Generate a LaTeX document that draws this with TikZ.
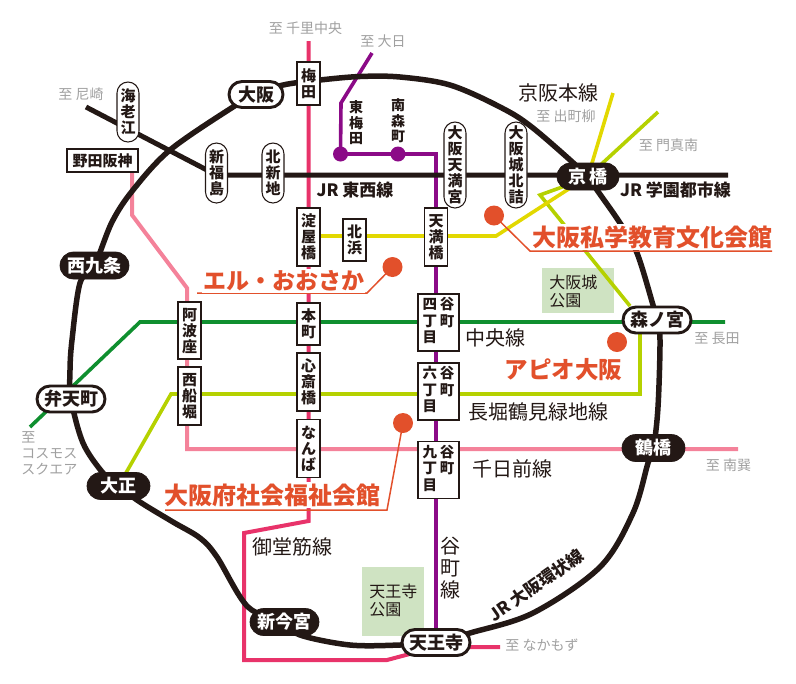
\documentclass[tikz,border=0pt]{standalone}
\usepackage{fontspec}
\setmainfont{Noto Sans CJK JP}
\usetikzlibrary{backgrounds}
\pgfdeclarelayer{lines}
\pgfsetlayers{lines,main}
\definecolor{ink}{HTML}{231815}
\definecolor{cMido}{HTML}{E8336A}
\definecolor{cTani}{HTML}{8B0A87}
\definecolor{cSen}{HTML}{F4829A}
\definecolor{cChuo}{HTML}{0F8F2F}
\definecolor{cNaga}{HTML}{B5D100}
\definecolor{cKei}{HTML}{E2D800}
\definecolor{cRed}{HTML}{E2502B}
\definecolor{cGrey}{HTML}{A0A0A0}
\definecolor{cPark}{HTML}{CFE3C2}
\def\px{0.75pt}
\newcommand{\FS}[2]{\fontsize{\dimexpr#1\dimexpr 0.75pt\relax\relax}{\dimexpr#2\dimexpr 0.75pt\relax\relax}\selectfont}
\tikzset{
  x=0.75pt,y=-0.75pt,
  stbase/.style={inner sep=0pt,align=center,font=\bfseries\FS{15}{16},text=ink},
  rectst/.style={stbase,draw=ink,line width=0.8pt,fill=white,minimum width=23*\px},
  roundst/.style={stbase,draw=ink,line width=0.8pt,fill=white,minimum width=22*\px,rounded corners=11*\px},
  twocol/.style={stbase,draw=ink,line width=0.8pt,fill=white,minimum width=41*\px,minimum height=57*\px,font=\bfseries\FS{14.5}{15.5}},
  pillw/.style={inner sep=0pt,draw=ink,line width=2.2pt,fill=white,text=ink,font=\bfseries\FS{18}{20},minimum height=26*\px,rounded corners=13*\px},
  pillb/.style={inner sep=0pt,draw=ink,line width=0.5pt,fill=ink,text=white,font=\bfseries\FS{18}{20},minimum height=27*\px,rounded corners=13.5*\px},
  gry/.style={inner sep=0pt,text=cGrey,font=\FS{14}{16}},
  lbl/.style={inner sep=0pt,text=ink,font=\FS{20}{22}},
  lblb/.style={inner sep=0pt,text=ink,font=\bfseries\FS{17}{20}},
  venue/.style={inner xsep=1pt,inner ysep=1pt,fill=white,text=cRed,font=\bfseries\FS{24}{26}},
  dot/.style={circle,fill=cRed,inner sep=0pt,minimum size=20*\px},
  stopdot/.style={circle,fill=cTani,inner sep=0pt,minimum size=15*\px},
  park/.style={fill=cPark,inner sep=0pt},
  parktxt/.style={inner sep=0pt,align=left,text=ink,font=\FS{16}{18}},
  lnMido/.style={draw=cMido,line width=4*\px},
  lnTani/.style={draw=cTani,line width=3.6*\px},
  lnSen/.style={draw=cSen,line width=4*\px},
  lnChuo/.style={draw=cChuo,line width=3.6*\px},
  lnNaga/.style={draw=cNaga,line width=3.6*\px},
  lnKei/.style={draw=cKei,line width=3.6*\px},
  lnRing/.style={draw=ink,line width=5.5*\px},
  lnTozai/.style={draw=ink,line width=5*\px},
  leader/.style={draw=cRed,line width=1.5*\px},
}
\begin{document}
\begin{tikzpicture}
\useasboundingbox (0,0) rectangle (796,683);
% vertical rectangular stations
\node[rectst,minimum height=43*\px] (umeda) at (308.5,83.5) {梅\\田};
\node[rectst,minimum height=58*\px] (yodoyabashi) at (308.5,237) {淀\\屋\\橋};
\node[rectst,minimum height=42*\px] (kitahama) at (354.5,240) {北\\浜};
\node[rectst,minimum height=58*\px] (temmabashi) at (436,237) {天\\満\\橋};
\node[rectst,minimum height=42*\px] (hommachi) at (308.5,324) {本\\町};
\node[rectst,minimum height=58*\px] (shinsaibashi) at (308.5,382) {心\\斎\\橋};
\node[rectst,minimum height=58*\px] (namba) at (308.5,448.5) {な\\ん\\ば};
\node[rectst,minimum height=57*\px] (awaza) at (189.5,330.5) {阿\\波\\座};
\node[rectst,minimum height=58*\px] (nishisen) at (189.5,396) {西\\船\\堀};
\node[rectst,minimum width=71*\px,minimum height=23*\px] (noda) at (102.5,160.5) {野田阪神};
% two-column stations
\node[twocol] (tani4) at (438.5,322.5) {\begin{tabular}{@{}c@{\hspace{2pt}}c@{}}四&谷\\丁&町\\目&\end{tabular}};
\node[twocol] (tani6) at (438.5,391.5) {\begin{tabular}{@{}c@{\hspace{2pt}}c@{}}六&谷\\丁&町\\目&\end{tabular}};
\node[twocol] (tani9) at (438.5,470) {\begin{tabular}{@{}c@{\hspace{2pt}}c@{}}九&谷\\丁&町\\目&\end{tabular}};
% rounded vertical stations
\node[roundst,minimum height=60*\px] (ebie) at (128,112) {海\\老\\江};
\node[roundst,minimum height=60*\px] (shinfuku) at (216.5,173) {新\\福\\島};
\node[roundst,minimum height=60*\px] (kitashin) at (273,173) {北\\新\\地};
\node[roundst,minimum height=86*\px] (otemmangu) at (455,165) {大\\阪\\天\\満\\宮};
\node[roundst,minimum height=86*\px] (ojokita) at (516,165) {大\\阪\\城\\北\\詰};
% ring stations
\node[pillw,minimum width=54*\px] (osaka) at (256,94.5) {大阪};
\node[pillw,minimum width=68*\px] (benten) at (71,399) {弁天町};
\node[pillw,minimum width=68*\px] (morinomiya) at (657,320) {森ノ宮};
\node[pillw,minimum width=68*\px] (tennoji) at (436,642.5) {天王寺};
\node[pillb,minimum width=69*\px] (nishikujo) at (94.5,265.5) {西九条};
\node[pillb,minimum width=62*\px] (kyobashi) at (588,176.5) {京\,橋};
\node[pillb,minimum width=63*\px] (tsuruhashi) at (653.5,448) {鶴橋};
\node[pillb,minimum width=63*\px] (taisho) at (118.5,486) {大正};
\node[pillb,minimum width=69*\px] (shinimamiya) at (284.5,622) {新今宮};
% stops with dots and their vertical names
\node[stopdot] (higashiumeda) at (340.5,154) {};
\node[stopdot] (minamimori) at (398,154) {};
\node[inner sep=0pt,align=center,text=ink,font=\bfseries\FS{14}{15.5}] (higashiname) at (356,123) {東\\梅\\田};
\node[inner sep=0pt,align=center,text=ink,font=\bfseries\FS{14}{15.5}] (minaminame) at (398,121) {南\\森\\町};
% free ends and bends
\coordinate (toAma) at (86,107);
\coordinate (toGaku) at (728,175);
\coordinate (toSenri) at (308.5,41);
\coordinate (midoA) at (308.5,521);
\coordinate (midoB) at (244,533);
\coordinate (midoC) at (244,660);
\coordinate (midoD) at (387,660);
\coordinate (toNaka) at (500,647);
\coordinate (toDaini) at (372,53);
\coordinate (taniA) at (341,103);
\coordinate (taniB) at (436,154);
\coordinate (senA) at (132,215);
\coordinate (senB) at (187,288);
\coordinate (senC) at (187,449);
\coordinate (toMinami) at (738,449);
\coordinate (toCosmos) at (30,427);
\coordinate (chuoA) at (140,322);
\coordinate (toNagata) at (725,322);
\coordinate (nagaA) at (171,394);
\coordinate (nagaB) at (640,394);
\coordinate (nagaE) at (630,306);
\coordinate (nagaC) at (540,195);
\coordinate (nagaD) at (565,186);
\coordinate (toKadoma) at (658,112);
\coordinate (keiA) at (496,236);
\coordinate (toDemachi) at (613,93);
% venues
\node[dot] (dotshigaku) at (494,215.5) {};
\node[dot] (dotel) at (392.5,267) {};
\node[dot] (dotapio) at (617,342) {};
\node[dot] (dotfukushi) at (403,423) {};
\coordinate (legShigakuA) at (530,251);
\coordinate (legShigakuB) at (772,251);
\coordinate (legElA) at (367,293);
\coordinate (legElB) at (197,293);
\coordinate (legFukuA) at (387,510);
\coordinate (legFukuB) at (165,510);
\begin{pgfonlayer}{lines}
  \node[park,minimum width=72*\px,minimum height=45*\px] (parkjo) at (578,290.5) {};
  \node[park,minimum width=62*\px,minimum height=69*\px] (parkten) at (393,601.5) {};
  % subway and private lines
  \draw[lnSen] (senA |- noda.center) -- (senA) -- (senB) -- (senC) -- (toMinami);
  \draw[lnChuo] (toCosmos) -- (chuoA) -- (toNagata);
  \draw[lnNaga] (taisho.center) -- (nagaA) -- (nagaB) -- (nagaB |- morinomiya) -- (morinomiya.center);
  \draw[lnNaga] (nagaE) -- (nagaC) -- (nagaD) -- (kyobashi.center);
  \draw[lnNaga] (kyobashi.center) -- (toKadoma);
  \draw[lnKei] (yodoyabashi.center |- keiA) -- (keiA) -- (kyobashi.center);
  \draw[lnKei] (kyobashi.center) -- (toDemachi);
  \draw[lnMido] (toSenri) -- (midoA) -- (midoB) -- (midoC) -- (midoD) -- (tennoji.center |- toNaka) -- (toNaka);
  \draw[lnTani] (toDaini) -- (taniA) -- (higashiumeda.center) -- (taniB) -- (tennoji.center);
  % JR lines
  \draw[lnTozai] (toAma) -- (shinfuku.center |- toGaku) -- (toGaku);
  \draw[lnRing] plot[smooth cycle,tension=0.55] coordinates {
    (osaka.center) (283,85) (320,80) (360,76.5) (400,77) (450,85) (500,107) (533,128)
    (kyobashi.center) (597,190) (620,223) (637,253) (653,305) (morinomiya.center)
    (660,340) (658,407) (tsuruhashi.center) (648,463) (633,513) (600,567) (533,613)
    (470,633) (tennoji.center) (400,645) (350,645) (300,635) (shinimamiya.center)
    (248,607) (217,557) (200,538) (173,522) (140,502) (taisho.center) (103,473) (83,443)
    (benten.center) (70,370) (72,340) (80,283) (nishikujo.center) (112,222) (133,190) (170,150) (233,107)};
  % leaders
  \draw[leader] (dotshigaku.center) -- (legShigakuA) -- (legShigakuB);
  \draw[leader] (dotel.center) -- (legElA) -- (legElB);
  \draw[leader] (dotfukushi.center) -- (legFukuA) -- (legFukuB);
\end{pgfonlayer}
% venue names
\node[venue] (shigaku) at (652.5,237) {大阪私学教育文化会館};
\node[venue,font=\bfseries\FS{23}{26}] (el) at (283.5,281) {エル・おおさか};
\node[venue,font=\bfseries\FS{23.5}{26}] (apio) at (563.5,370) {アピオ大阪};
\node[venue] (fukushi) at (272.5,495) {大阪府社会福祉会館};
% parks
\node[parktxt,anchor=west] (parkjot) at (549,291) {大阪城\\公園};
\node[parktxt,anchor=west] (parktent) at (369,600) {天王寺\\公園};
% line names
\node[lbl] (keihanlbl) at (558.5,93) {京阪本線};
\node[lblb] (tozailbl) at (355,190) {JR 東西線};
\node[lblb] (gakulbl) at (675.5,190) {JR 学園都市線};
\node[lbl] (chuolbl) at (495.5,338) {中央線};
\node[lbl] (nagalbl) at (538,412) {長堀鶴見緑地線};
\node[lbl] (senlbl) at (512,469) {千日前線};
\node[lbl] (midolbl) at (292,547) {御堂筋線};
\node[lbl,align=center] (tanilbl) at (450.5,568) {谷\\町\\線};
\node[lblb,rotate=35] (ringlbl) at (536,585) {JR 大阪環状線};
% direction labels
\node[gry] (dSenri) at (305.5,28) {至 千里中央};
\node[gry] (dDaini) at (383,41) {至 大日};
\node[gry] (dAma) at (81,94) {至 尼崎};
\node[gry] (dDemachi) at (566,116) {至 出町柳};
\node[gry] (dKadoma) at (668.5,145) {至 門真南};
\node[gry] (dNagata) at (717,338) {至 長田};
\node[gry] (dMinami) at (728.5,465) {至 南巽};
\node[gry] (dNaka) at (542,645) {至 なかもず};
\node[gry,align=left,anchor=north west,font=\FS{14}{16}] (dCosmos) at (21,431) {至\\コスモス\\スクエア};
\end{tikzpicture}
\end{document}
